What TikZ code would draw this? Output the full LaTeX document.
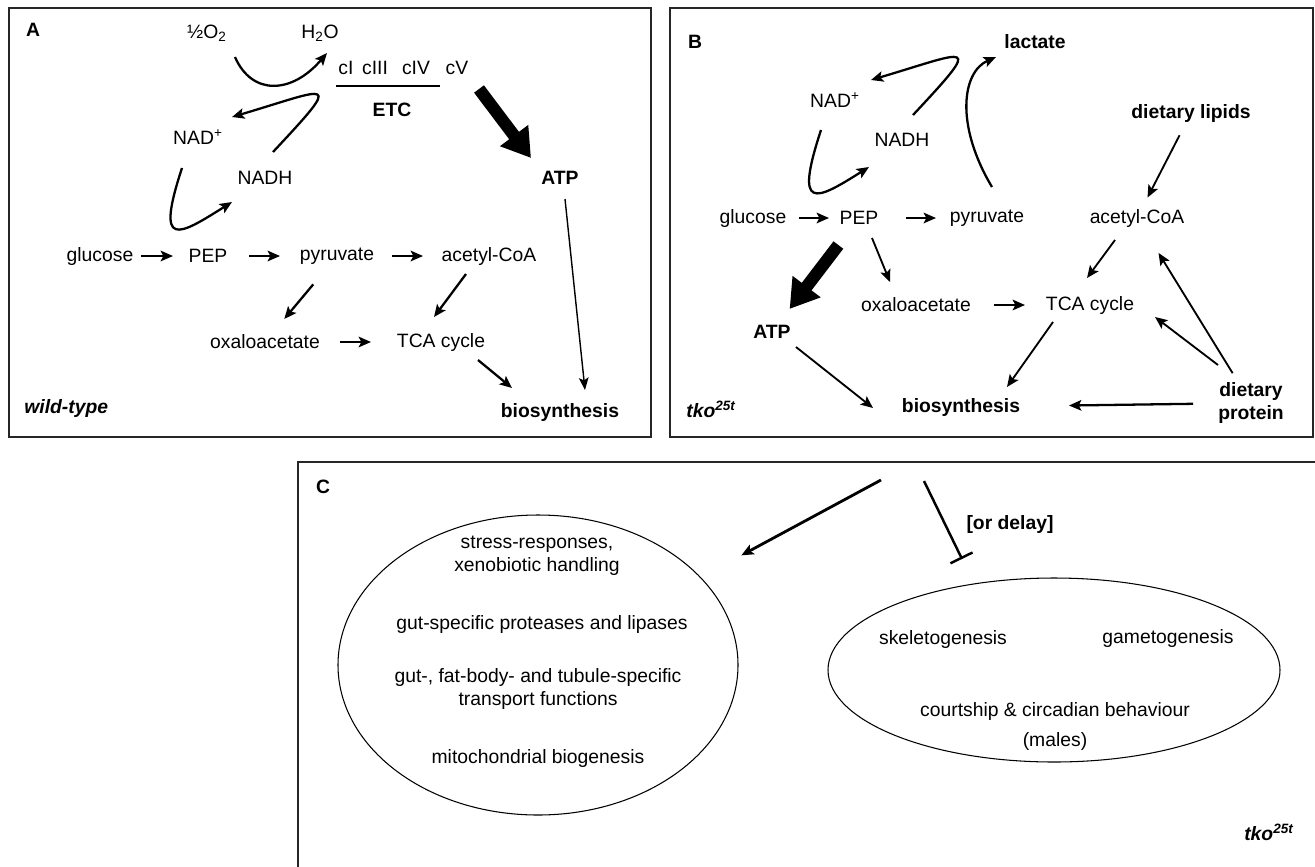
\documentclass[tikz,border=0pt]{standalone}
\usepackage{fontspec}
\setmainfont{Liberation Sans}
\usetikzlibrary{arrows.meta, positioning, shapes.geometric, calc}
\newdimen\pxu
\pxu=0.02cm

\begin{document}
\begin{tikzpicture}[
  x=0.02cm, y=-0.02cm,
  txt/.style={inner sep=0pt, align=center, font=\fontsize{11}{13}\selectfont},
  btxt/.style={txt, font=\fontsize{11}{13}\selectfont\bfseries},
  itxt/.style={txt, font=\fontsize{11}{13}\selectfont\bfseries\itshape},
  panel/.style={draw=black!85, line width=0.9pt},
  arr/.style={-{Stealth[length=7pt,width=6pt,inset=1.5pt]}, line width=1.3pt},
  midarr/.style={arr, line width=1.05pt},
  thinarr/.style={-{Stealth[length=7pt,width=5.5pt,inset=1.5pt]}, line width=0.8pt},
  bigarr/.style={-{Triangle[length=16pt,width=19pt]}, line width=7pt},
  inhib/.style={-{Bar[width=14pt]}, line width=1.4pt},
  blob/.style={draw, ellipse, line width=0.6pt, inner sep=0pt},
  sh/.style 2 args={shorten <=#1\pxu, shorten >=#2\pxu}
]
  \useasboundingbox (0,0) rectangle (1315,866);

  % panel A: wild-type
  \draw[panel] (9,8) rectangle (651,437);
  \node[btxt] (labA) at (33,30) {A};
  \node[txt] (o2) at (207,33) {½O\textsubscript{2}};
  \node[txt] (h2o) at (320,33) {H\textsubscript{2}O};
  \node[txt] (cI) at (346,68) {cI};
  \node[txt] (cIII) at (375,68) {cIII};
  \node[txt] (cIV) at (416,68) {cIV};
  \node[txt] (cV) at (457,68) {cV};
  \draw[line width=0.7pt] (336,86) -- (440,86);
  \node[btxt] (etc) at (392,110) {ETC};
  \node[txt] (nadp) at (198,137) {NAD\textsuperscript{+}};
  \node[txt] (nadh) at (265,178) {NADH};
  \node[btxt] (atp) at (560,178) {ATP};
  \node[txt] (glu) at (100,256) {glucose};
  \node[txt] (pep) at (208,256) {PEP};
  \node[txt] (pyr) at (337,256) {pyruvate};
  \node[txt] (acoa) at (489,256) {acetyl-CoA};
  \node[txt] (oxa) at (265,342) {oxaloacetate};
  \node[txt] (tca) at (441,342) {TCA cycle};
  \node[itxt, anchor=west] (wt) at (24,408) {wild-type};
  \node[btxt] (bio) at (560,412) {biosynthesis};

  \draw[arr] ($(o2)+(28,24)$) .. controls +(17,39) and +(-35,41) .. ($(h2o)+(7,20)$);
  \draw[arr] ($(nadh)+(8,-26)$) .. controls +(72,-77) and +(98,-29) .. ($(nadp)+(34,-20)$);
  \draw[arr] ($(nadp)+(-16,31)$) .. controls +(-27,82) and +(-54,34) .. ($(nadh)+(-33,24)$);
  \draw[bigarr] ($(cV)+(22,21)$) -- ($(atp)+(-29,-20)$);
  \draw[arr, sh={41}{35}] (glu.center) -- (pep.center);
  \draw[arr, sh={41}{57}] (pep.center) -- (pyr.center);
  \draw[arr, sh={55}{66}] (pyr.center) -- (acoa.center);
  \draw[arr, sh={37}{30}] (pyr.center) -- (oxa.center);
  \draw[arr] ($(acoa)+(-23,18)$) -- ($(tca)+(-7,-25)$);
  \draw[arr, sh={75}{70}] (oxa.center) -- (tca.center);
  \draw[arr] ($(tca)+(37,18)$) -- ($(bio)+(-48,-24)$);
  \draw[thinarr] ($(atp)+(5,21)$) -- ($(bio)+(25,-22)$);

  % panel B: tko25t
  \draw[panel] (670,8) rectangle (1313,437);
  \node[btxt] (labB) at (695,42) {B};
  \node[btxt] (lac) at (1035,42) {lactate};
  \node[txt] (nadpb) at (835,100) {NAD\textsuperscript{+}};
  \node[txt] (nadhb) at (902,140) {NADH};
  \node[btxt] (lip) at (1191,113) {dietary lipids};
  \node[txt] (glub) at (753,218) {glucose};
  \node[txt] (pepb) at (859,218) {PEP};
  \node[txt] (pyrb) at (987,218) {pyruvate};
  \node[txt] (acoab) at (1137,218) {acetyl-CoA};
  \node[txt] (oxab) at (916,305) {oxaloacetate};
  \node[txt] (tcab) at (1090,305) {TCA cycle};
  \node[btxt] (atpb) at (772,332) {ATP};
  \node[itxt, anchor=west] (tkob) at (686,409) {tko\textsuperscript{25t}};
  \node[btxt] (biob) at (961,407) {biosynthesis};
  \node[btxt] (prot) at (1251,403) {dietary\\protein};

  \draw[arr] ($(nadhb)+(11,-25)$) .. controls +(72,-77) and +(98,-29) .. ($(nadpb)+(36,-20)$);
  \draw[arr] ($(nadpb)+(-14,30)$) .. controls +(-27,82) and +(-54,34) .. ($(nadhb)+(-33,27)$);
  \draw[arr] ($(pyrb)+(5,-31)$) .. controls +(-37,-62) and +(-34,15) .. ($(lac)+(-39,15)$);
  \draw[arr, sh={46}{30}] (glub.center) -- (pepb.center);
  \draw[arr, sh={47}{51}] (pepb.center) -- (pyrb.center);
  \draw[arr, sh={78}{65}] (oxab.center) -- (tcab.center);
  \draw[midarr] ($(pepb)+(13,20)$) -- ($(oxab)+(-26,-23)$);
  \draw[bigarr, sh={34}{29}] (pepb.center) -- (atpb.center);
  \draw[midarr] ($(atpb)+(24,15)$) -- ($(biob)+(-88,1)$);
  \draw[midarr] ($(tcab)+(-37,17)$) -- ($(biob)+(46,-20)$);
  \draw[midarr] ($(acoab)+(-22,22)$) -- ($(tcab)+(-3,-27)$);
  \draw[midarr, sh={25}{23}] (lip.center) -- (acoab.center);
  \draw[arr, sh={58}{108}] (prot.center) -- (biob.center);
  \draw[midarr] ($(prot)+(-33,-38)$) -- ($(tcab)+(65,12)$);
  \draw[midarr, sh={35}{41}] (prot.center) -- (acoab.center);

  % panel C
  \draw[panel] (298,462) rectangle (1330,880);
  \node[btxt] (labC) at (323,487) {C};
  \node[blob, minimum width=400\pxu, minimum height=300\pxu] (ellL) at (538,665) {};
  \node[txt] (stress) at (537,556) {stress-responses,\\xenobiotic handling};
  \node[txt] (prote) at (542,624) {gut-specific proteases and lipases};
  \node[txt] (transp) at (538,689) {gut-, fat-body- and tubule-specific\\transport functions};
  \node[txt] (mito) at (538,758) {mitochondrial biogenesis};
  \node[blob, minimum width=452\pxu, minimum height=184\pxu] (ellR) at (1054,670) {};
  \node[txt] (skel) at (943,639) {skeletogenesis};
  \node[txt] (game) at (1168,638) {gametogenesis};
  \node[txt] (court) at (1055,711) {courtship \& circadian behaviour};
  \node[txt] (males) at (1055,741) {(males)};
  \node[btxt] (delay) at (1010,524) {[or delay]};
  \node[itxt] (tkoc) at (1269,832) {tko\textsuperscript{25t}};
  \coordinate (upC) at (881,480);
  \coordinate (inC) at (924,481);
  \coordinate (inEnd) at (962,559);
  \draw[arr, line width=1.6pt, sh={0}{46}] (upC) -- (ellL);
  \draw[inhib] (inC) -- (inEnd);
\end{tikzpicture}
\end{document}
